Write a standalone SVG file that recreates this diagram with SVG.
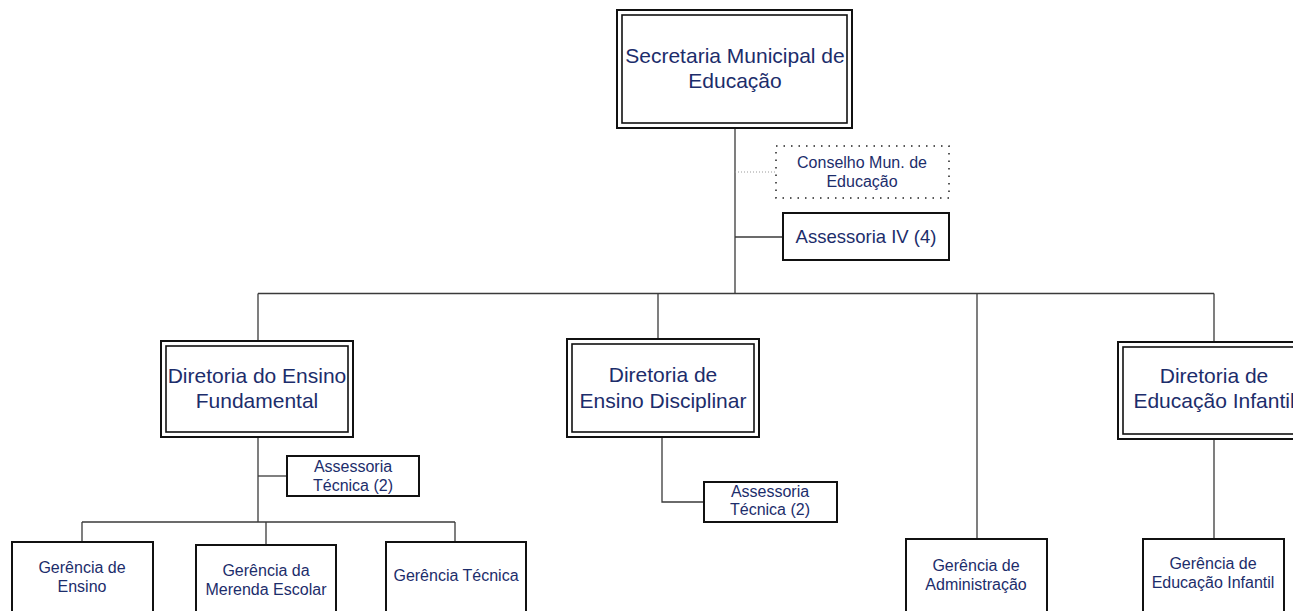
<svg xmlns="http://www.w3.org/2000/svg" width="1293" height="611" viewBox="0 0 1293 611">
  <style>
    .bg { fill: #ffffff; }
    .box { fill: #ffffff; stroke: #111111; stroke-width: 2; }
    .inner { fill: none; stroke: #111111; stroke-width: 1.6; }
    .dotted { fill: #ffffff; stroke: #222222; stroke-width: 1.5; stroke-dasharray: 1.5 6; }
    .link { fill: none; stroke: #3a3a3a; stroke-width: 1.3; }
    .link-dot { fill: none; stroke: #9a9a9a; stroke-width: 1; stroke-dasharray: 1 2; }
    text { font-family: "Liberation Sans", Arial, sans-serif; fill: #1c2d6b; text-anchor: middle; }
    .t21 { font-size: 21px; }
    .t18 { font-size: 18.5px; }
    .t16 { font-size: 16px; }
  </style>
  <rect class="bg" x="0" y="0" width="1293" height="611"/>

  <!-- connectors -->
  <g id="connectors">
    <path class="link" d="M735 128 V293.5"/>
    <path class="link-dot" d="M735 172 H776"/>
    <path class="link" d="M735 237 H783"/>
    <path class="link" d="M258 293.5 H1214"/>
    <path class="link" d="M258 293.5 V341"/>
    <path class="link" d="M658 293.5 V339"/>
    <path class="link" d="M977 293.5 V539"/>
    <path class="link" d="M1214 293.5 V342"/>
    <!-- Diretoria do Ensino Fundamental -->
    <path class="link" d="M258 437 V522"/>
    <path class="link" d="M258 476 H287"/>
    <path class="link" d="M82 522 H455"/>
    <path class="link" d="M82 522 V542"/>
    <path class="link" d="M266 522 V545"/>
    <path class="link" d="M455 522 V542"/>
    <!-- Diretoria de Ensino Disciplinar -->
    <path class="link" d="M662 437 V502 H704"/>
    <!-- Diretoria de Educação Infantil -->
    <path class="link" d="M1214 439 V539"/>
  </g>

  <g id="secretaria">
    <rect class="box" x="617" y="10" width="235" height="118"/>
    <rect class="inner" x="622" y="15" width="225" height="108"/>
    <text class="t21" x="735" y="63">Secretaria Municipal de</text>
    <text class="t21" x="735" y="88">Educação</text>
  </g>

  <g id="conselho">
    <rect class="dotted" x="776" y="146" width="173" height="52"/>
    <text class="t16" x="862" y="168">Conselho Mun. de</text>
    <text class="t16" x="862" y="187">Educação</text>
  </g>

  <g id="assessoria-iv">
    <rect class="box" x="783" y="213" width="166" height="47"/>
    <text class="t18" x="866" y="243">Assessoria IV (4)</text>
  </g>

  <g id="dir-ensino-fundamental">
    <rect class="box" x="161" y="341" width="192" height="96"/>
    <rect class="inner" x="166" y="346" width="182" height="86"/>
    <text class="t21" x="257" y="383">Diretoria do Ensino</text>
    <text class="t21" x="257" y="408">Fundamental</text>
  </g>

  <g id="dir-ensino-disciplinar">
    <rect class="box" x="567" y="339" width="192" height="98"/>
    <rect class="inner" x="572" y="344" width="182" height="88"/>
    <text class="t21" x="663" y="382">Diretoria de</text>
    <text class="t21" x="663" y="408">Ensino Disciplinar</text>
  </g>

  <g id="dir-educacao-infantil">
    <rect class="box" x="1118" y="342" width="192" height="97"/>
    <rect class="inner" x="1123" y="347" width="182" height="87"/>
    <text class="t21" x="1214" y="383">Diretoria de</text>
    <text class="t21" x="1214" y="408">Educação Infantil</text>
  </g>

  <g id="assessoria-tecnica-ef">
    <rect class="box" x="287" y="456" width="132" height="40"/>
    <text class="t16" x="353" y="472">Assessoria</text>
    <text class="t16" x="353" y="491">Técnica (2)</text>
  </g>

  <g id="assessoria-tecnica-ed">
    <rect class="box" x="704" y="482" width="133" height="40"/>
    <text class="t16" x="770" y="497">Assessoria</text>
    <text class="t16" x="770" y="515">Técnica (2)</text>
  </g>

  <g id="ger-ensino">
    <rect class="box" x="12" y="542" width="141" height="80"/>
    <text class="t16" x="82" y="573">Gerência de</text>
    <text class="t16" x="82" y="592">Ensino</text>
  </g>

  <g id="ger-merenda">
    <rect class="box" x="196" y="545" width="140" height="80"/>
    <text class="t16" x="266" y="576">Gerência da</text>
    <text class="t16" x="266" y="595">Merenda Escolar</text>
  </g>

  <g id="ger-tecnica">
    <rect class="box" x="386" y="542" width="140" height="80"/>
    <text class="t16" x="456" y="581">Gerência Técnica</text>
  </g>

  <g id="ger-administracao">
    <rect class="box" x="906" y="539" width="141" height="80"/>
    <text class="t16" x="976" y="571">Gerência de</text>
    <text class="t16" x="976" y="590">Administração</text>
  </g>

  <g id="ger-educacao-infantil">
    <rect class="box" x="1143" y="539" width="141" height="80"/>
    <text class="t16" x="1213" y="569">Gerência de</text>
    <text class="t16" x="1213" y="588">Educação Infantil</text>
  </g>
</svg>
